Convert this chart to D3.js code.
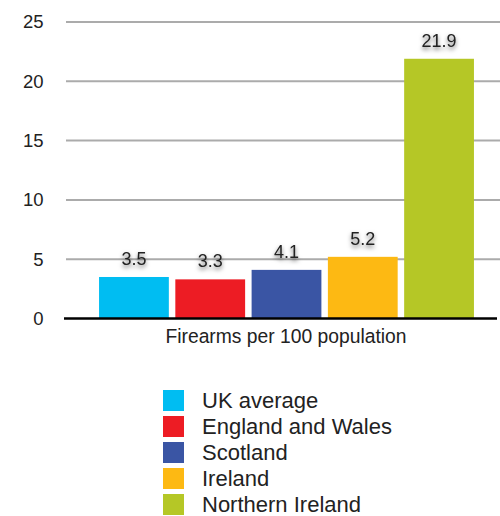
<!DOCTYPE html>
<html>
<head>
<meta charset="utf-8">
<script src="https://cdn.jsdelivr.net/npm/d3@7"></script>
<style>
  html, body { margin: 0; padding: 0; background: #fff; }
  svg { display: block; font-family: "Liberation Sans", Arial, Helvetica, sans-serif; }
</style>
</head>
<body>
<svg id="chart" width="500" height="516"></svg>
<script>
// Firearms per 100 population by region
const regions = ["UK average", "England and Wales", "Scotland", "Ireland", "Northern Ireland"];
const firearms = [3.5, 3.3, 4.1, 5.2, 21.9];
const colors = ["#00BDF2", "#ED1C24", "#3A55A4", "#FDB913", "#B5C726"];
const yTicks = [0, 5, 10, 15, 20, 25];
const axisTitle = "Firearms per 100 population";

const svg = d3.select("#chart");

const y = d3.scaleLinear().domain([0, 25]).range([318.5, 22]);
const x = d3.scaleBand().domain(regions).range([96, 477]).paddingInner(0.085).paddingOuter(0.04);

// soft shadow behind value labels
const defs = svg.append("defs");
const f = defs.append("filter").attr("id", "glow").attr("x", "-30%").attr("y", "-50%").attr("width", "160%").attr("height", "200%");
f.append("feDropShadow").attr("dx", 0).attr("dy", 2.5).attr("stdDeviation", 2)
  .attr("flood-color", "#000").attr("flood-opacity", 0.6);

// gridlines
svg.append("g").selectAll("line").data(yTicks.filter(d => d > 0)).join("line")
  .attr("x1", 66).attr("x2", 500)
  .attr("y1", d => y(d)).attr("y2", d => y(d))
  .attr("stroke", "#ababab").attr("stroke-width", 2);

// y axis labels
const yAxis = d3.axisLeft(y).tickValues(yTicks).tickSize(0).tickPadding(0);
const yg = svg.append("g").attr("transform", "translate(43.5,0)").call(yAxis);
yg.select(".domain").remove();
yg.selectAll("text").attr("font-size", 18.5).attr("fill", "#222")
  .attr("font-family", "Liberation Sans, Arial, sans-serif");

// bars
svg.append("g").selectAll("rect").data(regions).join("rect")
  .attr("x", d => x(d))
  .attr("width", x.bandwidth())
  .attr("y", (d, i) => y(firearms[i]))
  .attr("height", (d, i) => y(0) - y(firearms[i]))
  .attr("fill", (d, i) => colors[i]);

// baseline
svg.append("line").attr("x1", 64).attr("x2", 497)
  .attr("y1", y(0)).attr("y2", y(0))
  .attr("stroke", "#000").attr("stroke-width", 2.5);

// value labels
svg.append("g").selectAll("text").data(regions).join("text")
  .attr("x", d => x(d) + x.bandwidth() / 2)
  .attr("y", (d, i) => y(firearms[i]) - 12)
  .attr("text-anchor", "middle")
  .attr("font-size", 18)
  .attr("fill", "#222")
  .attr("filter", "url(#glow)")
  .text((d, i) => firearms[i].toFixed(1));

// axis title
svg.append("text")
  .attr("x", 286).attr("y", 343)
  .attr("text-anchor", "middle")
  .attr("font-size", 19.3)
  .attr("fill", "#222")
  .text(axisTitle);

// legend
const legend = svg.append("g").attr("transform", "translate(163,390)");
const rows = legend.selectAll("g").data(regions).join("g")
  .attr("transform", (d, i) => `translate(0,${i * 26})`);
rows.append("rect").attr("width", 21).attr("height", 21).attr("fill", (d, i) => colors[i]);
rows.append("text").attr("x", 39).attr("y", 17.5)
  .attr("font-size", 22).attr("fill", "#222")
  .text(d => d);
</script>
</body>
</html>
